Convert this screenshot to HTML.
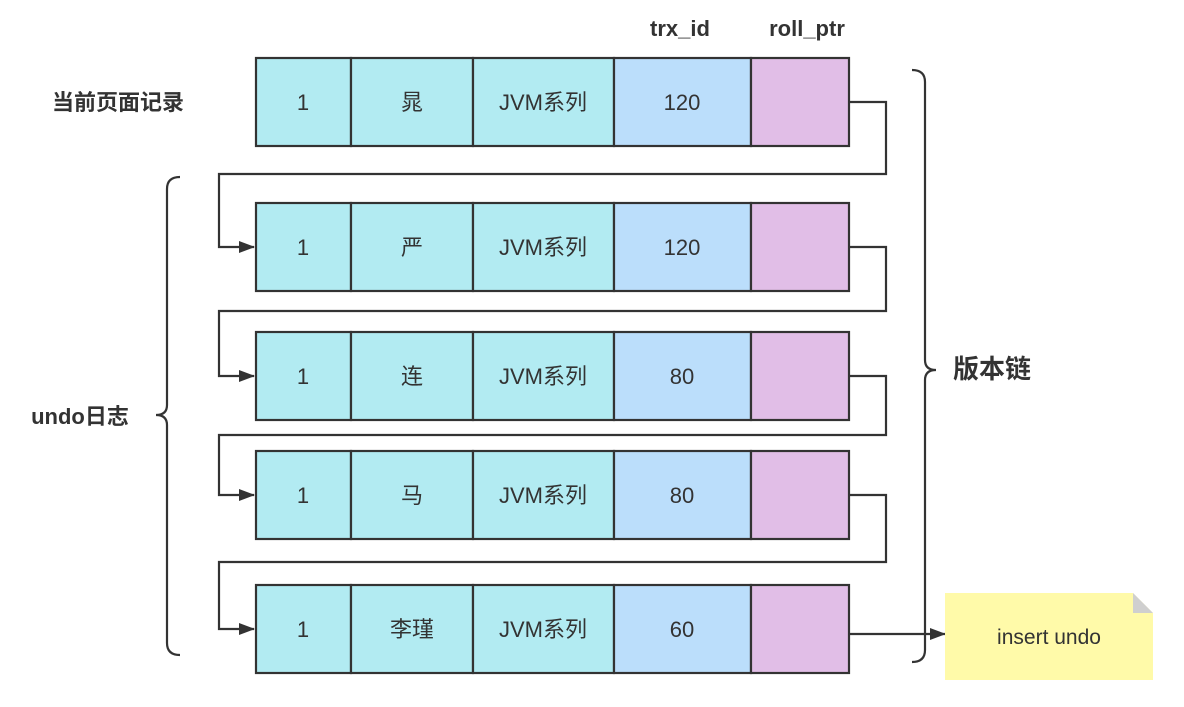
<!DOCTYPE html>
<html><head><meta charset="utf-8"><style>body{margin:0;background:#fff}</style></head><body>
<svg width="1184" height="702" xmlns="http://www.w3.org/2000/svg" font-family="'Liberation Sans','Noto Sans CJK SC',sans-serif">
<defs><marker id="a" markerWidth="16" markerHeight="12" refX="15" refY="6" orient="auto" markerUnits="userSpaceOnUse"><path d="M0,0 L16,6 L0,12 Z" fill="#333"/></marker></defs>
<g font-size="22" font-weight="bold" fill="#333">
<text x="680" y="36" text-anchor="middle">trx_id</text>
<text x="807" y="36" text-anchor="middle">roll_ptr</text>
<text x="118" y="110" text-anchor="middle" font-size="22">当前页面记录</text>
<text x="80" y="424" text-anchor="middle" font-size="22">undo日志</text>
<text x="992" y="378" text-anchor="middle" font-size="26">版本链</text>
</g>
<g stroke="#333" stroke-width="2.2" fill="none">
<path d="M849,102 H886 V174 H219 V247 H254" marker-end="url(#a)"/>
<path d="M849,247 H886 V311 H219 V376 H254" marker-end="url(#a)"/>
<path d="M849,376 H886 V435 H219 V495 H254" marker-end="url(#a)"/>
<path d="M849,495 H886 V562 H219 V629 H254" marker-end="url(#a)"/>
<path d="M849,634 H945" marker-end="url(#a)"/>
<path d="M912,70 Q925,70 925,82 V360 Q925,370 936,370 Q925,370 925,380 V650 Q925,662 912,662"/>
<path d="M180,177 Q167,177 167,189 V405 Q167,415 156,415 Q167,415 167,425 V643 Q167,655 180,655"/>
</g>
<path d="M945,593 H1133 L1153,613 V680 H945 Z" fill="#fffaa9"/>
<path d="M1133,593 L1153,613 H1133 Z" fill="#cfcfcf"/>
<text x="1049" y="644" text-anchor="middle" font-size="21" fill="#333">insert undo</text>
<g stroke="#333" stroke-width="2.2">
<rect x="256" y="58" width="95" height="88" fill="#b2ebf2"/><rect x="351" y="58" width="122" height="88" fill="#b2ebf2"/><rect x="473" y="58" width="141" height="88" fill="#b2ebf2"/><rect x="614" y="58" width="137" height="88" fill="#bbdefb"/><rect x="751" y="58" width="98" height="88" fill="#e1bee7"/>
<rect x="256" y="203" width="95" height="88" fill="#b2ebf2"/><rect x="351" y="203" width="122" height="88" fill="#b2ebf2"/><rect x="473" y="203" width="141" height="88" fill="#b2ebf2"/><rect x="614" y="203" width="137" height="88" fill="#bbdefb"/><rect x="751" y="203" width="98" height="88" fill="#e1bee7"/>
<rect x="256" y="332" width="95" height="88" fill="#b2ebf2"/><rect x="351" y="332" width="122" height="88" fill="#b2ebf2"/><rect x="473" y="332" width="141" height="88" fill="#b2ebf2"/><rect x="614" y="332" width="137" height="88" fill="#bbdefb"/><rect x="751" y="332" width="98" height="88" fill="#e1bee7"/>
<rect x="256" y="451" width="95" height="88" fill="#b2ebf2"/><rect x="351" y="451" width="122" height="88" fill="#b2ebf2"/><rect x="473" y="451" width="141" height="88" fill="#b2ebf2"/><rect x="614" y="451" width="137" height="88" fill="#bbdefb"/><rect x="751" y="451" width="98" height="88" fill="#e1bee7"/>
<rect x="256" y="585" width="95" height="88" fill="#b2ebf2"/><rect x="351" y="585" width="122" height="88" fill="#b2ebf2"/><rect x="473" y="585" width="141" height="88" fill="#b2ebf2"/><rect x="614" y="585" width="137" height="88" fill="#bbdefb"/><rect x="751" y="585" width="98" height="88" fill="#e1bee7"/>
</g>
<g font-size="22" fill="#333" text-anchor="middle">
<text x="303" y="110">1</text><text x="412" y="110">晁</text><text x="543" y="110">JVM系列</text><text x="682" y="110">120</text>
<text x="303" y="255">1</text><text x="412" y="255">严</text><text x="543" y="255">JVM系列</text><text x="682" y="255">120</text>
<text x="303" y="384">1</text><text x="412" y="384">连</text><text x="543" y="384">JVM系列</text><text x="682" y="384">80</text>
<text x="303" y="503">1</text><text x="412" y="503">马</text><text x="543" y="503">JVM系列</text><text x="682" y="503">80</text>
<text x="303" y="637">1</text><text x="412" y="637">李瑾</text><text x="543" y="637">JVM系列</text><text x="682" y="637">60</text>
</g>
</svg>
</body></html>
